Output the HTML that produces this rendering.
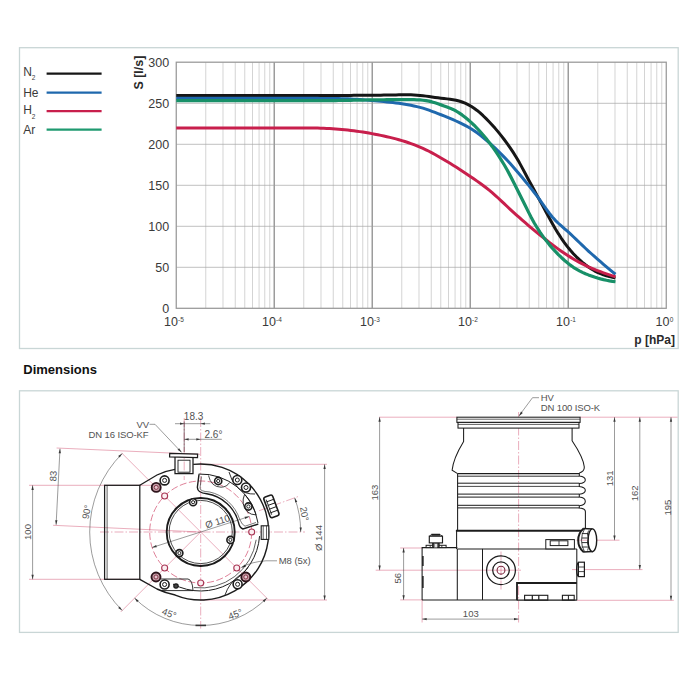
<!DOCTYPE html>
<html><head><meta charset="utf-8"><title>Pumping speed and dimensions</title>
<style>html,body{margin:0;padding:0;background:#fff}svg{display:block}</style></head>
<body>
<svg width="700" height="700" viewBox="0 0 700 700">
<rect width="700" height="700" fill="#fff"/>
<rect x="19.5" y="47.7" width="658.7" height="300.8" fill="#fff" stroke="#c9d6d6" stroke-width="1.3"/>
<rect x="19.5" y="390.8" width="658.7" height="241.6" fill="#fff" stroke="#c9d6d6" stroke-width="1.3"/>
<line x1="205.75" y1="62.2" x2="205.75" y2="308.3" stroke="#c2c2c2" stroke-width="0.7"/>
<line x1="223.01" y1="62.2" x2="223.01" y2="308.3" stroke="#c2c2c2" stroke-width="0.7"/>
<line x1="235.25" y1="62.2" x2="235.25" y2="308.3" stroke="#c2c2c2" stroke-width="0.7"/>
<line x1="244.75" y1="62.2" x2="244.75" y2="308.3" stroke="#c2c2c2" stroke-width="0.7"/>
<line x1="252.51" y1="62.2" x2="252.51" y2="308.3" stroke="#c2c2c2" stroke-width="0.7"/>
<line x1="259.07" y1="62.2" x2="259.07" y2="308.3" stroke="#c2c2c2" stroke-width="0.7"/>
<line x1="264.75" y1="62.2" x2="264.75" y2="308.3" stroke="#c2c2c2" stroke-width="0.7"/>
<line x1="269.77" y1="62.2" x2="269.77" y2="308.3" stroke="#c2c2c2" stroke-width="0.7"/>
<line x1="303.75" y1="62.2" x2="303.75" y2="308.3" stroke="#c2c2c2" stroke-width="0.7"/>
<line x1="321.01" y1="62.2" x2="321.01" y2="308.3" stroke="#c2c2c2" stroke-width="0.7"/>
<line x1="333.25" y1="62.2" x2="333.25" y2="308.3" stroke="#c2c2c2" stroke-width="0.7"/>
<line x1="342.75" y1="62.2" x2="342.75" y2="308.3" stroke="#c2c2c2" stroke-width="0.7"/>
<line x1="350.51" y1="62.2" x2="350.51" y2="308.3" stroke="#c2c2c2" stroke-width="0.7"/>
<line x1="357.07" y1="62.2" x2="357.07" y2="308.3" stroke="#c2c2c2" stroke-width="0.7"/>
<line x1="362.75" y1="62.2" x2="362.75" y2="308.3" stroke="#c2c2c2" stroke-width="0.7"/>
<line x1="367.77" y1="62.2" x2="367.77" y2="308.3" stroke="#c2c2c2" stroke-width="0.7"/>
<line x1="401.75" y1="62.2" x2="401.75" y2="308.3" stroke="#c2c2c2" stroke-width="0.7"/>
<line x1="419.01" y1="62.2" x2="419.01" y2="308.3" stroke="#c2c2c2" stroke-width="0.7"/>
<line x1="431.25" y1="62.2" x2="431.25" y2="308.3" stroke="#c2c2c2" stroke-width="0.7"/>
<line x1="440.75" y1="62.2" x2="440.75" y2="308.3" stroke="#c2c2c2" stroke-width="0.7"/>
<line x1="448.51" y1="62.2" x2="448.51" y2="308.3" stroke="#c2c2c2" stroke-width="0.7"/>
<line x1="455.07" y1="62.2" x2="455.07" y2="308.3" stroke="#c2c2c2" stroke-width="0.7"/>
<line x1="460.75" y1="62.2" x2="460.75" y2="308.3" stroke="#c2c2c2" stroke-width="0.7"/>
<line x1="465.77" y1="62.2" x2="465.77" y2="308.3" stroke="#c2c2c2" stroke-width="0.7"/>
<line x1="499.75" y1="62.2" x2="499.75" y2="308.3" stroke="#c2c2c2" stroke-width="0.7"/>
<line x1="517.01" y1="62.2" x2="517.01" y2="308.3" stroke="#c2c2c2" stroke-width="0.7"/>
<line x1="529.25" y1="62.2" x2="529.25" y2="308.3" stroke="#c2c2c2" stroke-width="0.7"/>
<line x1="538.75" y1="62.2" x2="538.75" y2="308.3" stroke="#c2c2c2" stroke-width="0.7"/>
<line x1="546.51" y1="62.2" x2="546.51" y2="308.3" stroke="#c2c2c2" stroke-width="0.7"/>
<line x1="553.07" y1="62.2" x2="553.07" y2="308.3" stroke="#c2c2c2" stroke-width="0.7"/>
<line x1="558.75" y1="62.2" x2="558.75" y2="308.3" stroke="#c2c2c2" stroke-width="0.7"/>
<line x1="563.77" y1="62.2" x2="563.77" y2="308.3" stroke="#c2c2c2" stroke-width="0.7"/>
<line x1="597.75" y1="62.2" x2="597.75" y2="308.3" stroke="#c2c2c2" stroke-width="0.7"/>
<line x1="615.01" y1="62.2" x2="615.01" y2="308.3" stroke="#c2c2c2" stroke-width="0.7"/>
<line x1="627.25" y1="62.2" x2="627.25" y2="308.3" stroke="#c2c2c2" stroke-width="0.7"/>
<line x1="636.75" y1="62.2" x2="636.75" y2="308.3" stroke="#c2c2c2" stroke-width="0.7"/>
<line x1="644.51" y1="62.2" x2="644.51" y2="308.3" stroke="#c2c2c2" stroke-width="0.7"/>
<line x1="651.07" y1="62.2" x2="651.07" y2="308.3" stroke="#c2c2c2" stroke-width="0.7"/>
<line x1="656.75" y1="62.2" x2="656.75" y2="308.3" stroke="#c2c2c2" stroke-width="0.7"/>
<line x1="661.77" y1="62.2" x2="661.77" y2="308.3" stroke="#c2c2c2" stroke-width="0.7"/>
<line x1="176.25" y1="267.30" x2="666.25" y2="267.30" stroke="#a6a6a6" stroke-width="0.7"/>
<line x1="176.25" y1="226.30" x2="666.25" y2="226.30" stroke="#a6a6a6" stroke-width="0.7"/>
<line x1="176.25" y1="185.30" x2="666.25" y2="185.30" stroke="#a6a6a6" stroke-width="0.7"/>
<line x1="176.25" y1="144.30" x2="666.25" y2="144.30" stroke="#a6a6a6" stroke-width="0.7"/>
<line x1="176.25" y1="103.30" x2="666.25" y2="103.30" stroke="#a6a6a6" stroke-width="0.7"/>
<line x1="274.25" y1="62.2" x2="274.25" y2="308.3" stroke="#9c9c9c" stroke-width="1.5"/>
<line x1="372.25" y1="62.2" x2="372.25" y2="308.3" stroke="#9c9c9c" stroke-width="1.5"/>
<line x1="470.25" y1="62.2" x2="470.25" y2="308.3" stroke="#9c9c9c" stroke-width="1.5"/>
<line x1="568.25" y1="62.2" x2="568.25" y2="308.3" stroke="#9c9c9c" stroke-width="1.5"/>
<rect x="176.25" y="62.2" width="490.0" height="246.1" fill="none" stroke="#989898" stroke-width="1.25"/>
<path d="M176.25,95.40 L179.26,95.40 L182.27,95.40 L185.28,95.40 L188.28,95.40 L191.29,95.40 L194.30,95.40 L197.31,95.40 L200.32,95.40 L203.33,95.40 L206.34,95.40 L209.34,95.40 L212.35,95.40 L215.36,95.40 L218.37,95.40 L221.38,95.40 L224.39,95.40 L227.40,95.40 L230.40,95.40 L233.41,95.40 L236.42,95.40 L239.43,95.40 L242.44,95.40 L245.45,95.40 L248.46,95.40 L251.46,95.40 L254.47,95.40 L257.48,95.40 L260.49,95.40 L263.50,95.40 L266.51,95.40 L269.52,95.40 L272.52,95.40 L275.53,95.40 L278.54,95.40 L281.55,95.40 L284.56,95.40 L287.57,95.40 L290.58,95.40 L293.58,95.40 L296.59,95.40 L299.60,95.40 L302.61,95.40 L305.62,95.40 L308.63,95.40 L311.64,95.40 L314.64,95.40 L317.65,95.40 L320.66,95.40 L323.67,95.40 L326.68,95.40 L329.69,95.40 L332.70,95.40 L335.70,95.40 L338.71,95.40 L341.72,95.40 L344.73,95.39 L347.74,95.39 L350.75,95.38 L353.76,95.37 L356.76,95.36 L359.77,95.35 L362.78,95.34 L365.79,95.33 L368.80,95.32 L371.81,95.30 L374.82,95.27 L377.82,95.23 L380.83,95.17 L383.84,95.11 L386.85,95.04 L389.86,94.98 L392.87,94.93 L395.88,94.90 L398.88,94.86 L401.89,94.84 L404.90,94.82 L407.91,94.82 L410.92,94.86 L413.93,94.97 L416.93,95.17 L419.94,95.42 L422.95,95.74 L425.96,96.12 L428.97,96.56 L431.98,97.03 L434.99,97.47 L437.99,97.85 L441.00,98.20 L444.01,98.53 L447.02,98.88 L450.03,99.26 L453.04,99.72 L456.05,100.30 L459.05,101.04 L462.06,101.99 L465.07,103.16 L468.08,104.58 L471.09,106.27 L474.10,108.22 L477.11,110.44 L480.11,112.95 L483.12,115.72 L486.13,118.68 L489.14,121.76 L492.15,124.97 L495.16,128.35 L498.17,131.89 L501.17,135.61 L504.18,139.50 L507.19,143.57 L510.20,147.85 L513.21,152.36 L516.22,157.18 L519.23,162.36 L522.23,167.85 L525.24,173.51 L528.25,179.18 L531.26,184.79 L534.27,190.34 L537.28,195.87 L540.29,201.39 L543.29,206.90 L546.30,212.43 L549.31,217.99 L552.32,223.47 L555.33,228.73 L558.34,233.66 L561.35,238.27 L564.35,242.58 L567.36,246.59 L570.37,250.28 L573.38,253.67 L576.39,256.80 L579.40,259.68 L582.41,262.33 L585.41,264.77 L588.42,267.02 L591.43,269.05 L594.44,270.82 L597.45,272.32 L600.46,273.61 L603.47,274.73 L606.47,275.71 L609.48,276.57 L612.49,277.32 L615.50,278.00" fill="none" stroke="#161616" stroke-width="3.0" stroke-linejoin="round" stroke-linecap="butt"/>
<path d="M176.25,98.30 L179.26,98.30 L182.27,98.30 L185.28,98.30 L188.28,98.30 L191.29,98.30 L194.30,98.30 L197.31,98.30 L200.32,98.30 L203.33,98.30 L206.34,98.30 L209.34,98.30 L212.35,98.30 L215.36,98.30 L218.37,98.30 L221.38,98.30 L224.39,98.30 L227.40,98.30 L230.40,98.30 L233.41,98.30 L236.42,98.30 L239.43,98.30 L242.44,98.30 L245.45,98.30 L248.46,98.30 L251.46,98.30 L254.47,98.30 L257.48,98.30 L260.49,98.30 L263.50,98.30 L266.51,98.30 L269.52,98.30 L272.52,98.30 L275.53,98.30 L278.54,98.30 L281.55,98.30 L284.56,98.30 L287.57,98.30 L290.58,98.30 L293.58,98.30 L296.59,98.30 L299.60,98.30 L302.61,98.30 L305.62,98.31 L308.63,98.32 L311.64,98.33 L314.64,98.35 L317.65,98.36 L320.66,98.39 L323.67,98.41 L326.68,98.44 L329.69,98.47 L332.70,98.51 L335.70,98.54 L338.71,98.59 L341.72,98.65 L344.73,98.73 L347.74,98.85 L350.75,98.98 L353.76,99.14 L356.76,99.31 L359.77,99.50 L362.78,99.70 L365.79,99.92 L368.80,100.18 L371.81,100.44 L374.82,100.71 L377.82,100.99 L380.83,101.28 L383.84,101.59 L386.85,101.90 L389.86,102.23 L392.87,102.58 L395.88,102.96 L398.88,103.36 L401.89,103.79 L404.90,104.26 L407.91,104.77 L410.92,105.33 L413.93,105.94 L416.93,106.60 L419.94,107.34 L422.95,108.18 L425.96,109.14 L428.97,110.20 L431.98,111.31 L434.99,112.45 L437.99,113.60 L441.00,114.75 L444.01,115.92 L447.02,117.12 L450.03,118.37 L453.04,119.66 L456.05,121.00 L459.05,122.39 L462.06,123.83 L465.07,125.35 L468.08,126.97 L471.09,128.74 L474.10,130.69 L477.11,132.83 L480.11,135.14 L483.12,137.58 L486.13,140.11 L489.14,142.71 L492.15,145.40 L495.16,148.20 L498.17,151.09 L501.17,154.08 L504.18,157.16 L507.19,160.32 L510.20,163.59 L513.21,166.96 L516.22,170.41 L519.23,173.94 L522.23,177.53 L525.24,181.17 L528.25,184.88 L531.26,188.66 L534.27,192.51 L537.28,196.44 L540.29,200.51 L543.29,204.76 L546.30,209.08 L549.31,213.25 L552.32,217.01 L555.33,220.31 L558.34,223.24 L561.35,225.95 L564.35,228.56 L567.36,231.19 L570.37,233.90 L573.38,236.72 L576.39,239.59 L579.40,242.49 L582.41,245.38 L585.41,248.23 L588.42,251.03 L591.43,253.76 L594.44,256.45 L597.45,259.10 L600.46,261.71 L603.47,264.29 L606.47,266.84 L609.48,269.34 L612.49,271.81 L615.50,274.25" fill="none" stroke="#1f68ad" stroke-width="3.0" stroke-linejoin="round" stroke-linecap="butt"/>
<path d="M176.25,128.00 L179.26,128.00 L182.27,128.00 L185.28,128.00 L188.28,128.00 L191.29,128.00 L194.30,128.00 L197.31,128.00 L200.32,128.00 L203.33,128.00 L206.34,128.00 L209.34,128.00 L212.35,128.00 L215.36,128.00 L218.37,128.00 L221.38,128.00 L224.39,128.00 L227.40,128.00 L230.40,128.00 L233.41,128.00 L236.42,128.00 L239.43,128.00 L242.44,128.00 L245.45,128.00 L248.46,128.00 L251.46,128.00 L254.47,128.00 L257.48,128.00 L260.49,128.00 L263.50,128.00 L266.51,128.00 L269.52,128.00 L272.52,128.00 L275.53,128.00 L278.54,128.00 L281.55,128.00 L284.56,128.00 L287.57,128.00 L290.58,128.00 L293.58,128.00 L296.59,128.00 L299.60,128.00 L302.61,128.01 L305.62,128.01 L308.63,128.03 L311.64,128.05 L314.64,128.07 L317.65,128.11 L320.66,128.17 L323.67,128.27 L326.68,128.41 L329.69,128.58 L332.70,128.76 L335.70,128.96 L338.71,129.19 L341.72,129.45 L344.73,129.74 L347.74,130.06 L350.75,130.40 L353.76,130.78 L356.76,131.18 L359.77,131.62 L362.78,132.09 L365.79,132.58 L368.80,133.10 L371.81,133.63 L374.82,134.19 L377.82,134.77 L380.83,135.38 L383.84,136.01 L386.85,136.68 L389.86,137.38 L392.87,138.12 L395.88,138.89 L398.88,139.71 L401.89,140.58 L404.90,141.52 L407.91,142.52 L410.92,143.58 L413.93,144.71 L416.93,145.89 L419.94,147.13 L422.95,148.43 L425.96,149.79 L428.97,151.25 L431.98,152.82 L434.99,154.47 L437.99,156.19 L441.00,157.94 L444.01,159.72 L447.02,161.51 L450.03,163.33 L453.04,165.17 L456.05,167.05 L459.05,168.97 L462.06,170.92 L465.07,172.90 L468.08,174.91 L471.09,176.96 L474.10,179.03 L477.11,181.14 L480.11,183.29 L483.12,185.50 L486.13,187.79 L489.14,190.17 L492.15,192.66 L495.16,195.27 L498.17,198.00 L501.17,200.81 L504.18,203.66 L507.19,206.52 L510.20,209.34 L513.21,212.10 L516.22,214.81 L519.23,217.46 L522.23,220.09 L525.24,222.69 L528.25,225.27 L531.26,227.81 L534.27,230.32 L537.28,232.79 L540.29,235.21 L543.29,237.61 L546.30,239.99 L549.31,242.34 L552.32,244.65 L555.33,246.91 L558.34,249.11 L561.35,251.23 L564.35,253.28 L567.36,255.25 L570.37,257.14 L573.38,258.95 L576.39,260.69 L579.40,262.33 L582.41,263.90 L585.41,265.37 L588.42,266.77 L591.43,268.09 L594.44,269.35 L597.45,270.56 L600.46,271.71 L603.47,272.80 L606.47,273.85 L609.48,274.86 L612.49,275.82 L615.50,276.75" fill="none" stroke="#c81f4c" stroke-width="3.0" stroke-linejoin="round" stroke-linecap="butt"/>
<path d="M176.25,100.60 L179.26,100.60 L182.27,100.60 L185.28,100.60 L188.28,100.60 L191.29,100.60 L194.30,100.60 L197.31,100.60 L200.32,100.60 L203.33,100.60 L206.34,100.60 L209.34,100.60 L212.35,100.60 L215.36,100.60 L218.37,100.60 L221.38,100.60 L224.39,100.60 L227.40,100.60 L230.40,100.60 L233.41,100.60 L236.42,100.60 L239.43,100.60 L242.44,100.60 L245.45,100.60 L248.46,100.60 L251.46,100.60 L254.47,100.60 L257.48,100.60 L260.49,100.60 L263.50,100.60 L266.51,100.60 L269.52,100.60 L272.52,100.60 L275.53,100.60 L278.54,100.60 L281.55,100.60 L284.56,100.60 L287.57,100.60 L290.58,100.60 L293.58,100.60 L296.59,100.60 L299.60,100.60 L302.61,100.60 L305.62,100.60 L308.63,100.60 L311.64,100.60 L314.64,100.60 L317.65,100.60 L320.66,100.60 L323.67,100.60 L326.68,100.60 L329.69,100.60 L332.70,100.58 L335.70,100.56 L338.71,100.52 L341.72,100.47 L344.73,100.41 L347.74,100.35 L350.75,100.28 L353.76,100.22 L356.76,100.16 L359.77,100.11 L362.78,100.05 L365.79,100.00 L368.80,99.95 L371.81,99.90 L374.82,99.85 L377.82,99.80 L380.83,99.76 L383.84,99.73 L386.85,99.71 L389.86,99.70 L392.87,99.70 L395.88,99.70 L398.88,99.70 L401.89,99.70 L404.90,99.70 L407.91,99.70 L410.92,99.70 L413.93,99.72 L416.93,99.80 L419.94,99.96 L422.95,100.23 L425.96,100.61 L428.97,101.16 L431.98,101.91 L434.99,102.83 L437.99,103.85 L441.00,104.88 L444.01,105.92 L447.02,106.99 L450.03,108.14 L453.04,109.45 L456.05,111.01 L459.05,112.85 L462.06,114.93 L465.07,117.21 L468.08,119.69 L471.09,122.36 L474.10,125.23 L477.11,128.28 L480.11,131.52 L483.12,134.95 L486.13,138.57 L489.14,142.41 L492.15,146.45 L495.16,150.70 L498.17,155.14 L501.17,159.80 L504.18,164.73 L507.19,170.00 L510.20,175.62 L513.21,181.47 L516.22,187.43 L519.23,193.44 L522.23,199.49 L525.24,205.57 L528.25,211.63 L531.26,217.50 L534.27,222.98 L537.28,227.99 L540.29,232.59 L543.29,236.87 L546.30,240.86 L549.31,244.60 L552.32,248.11 L555.33,251.41 L558.34,254.53 L561.35,257.47 L564.35,260.25 L567.36,262.82 L570.37,265.16 L573.38,267.28 L576.39,269.19 L579.40,270.88 L582.41,272.37 L585.41,273.69 L588.42,274.88 L591.43,275.99 L594.44,277.04 L597.45,278.00 L600.46,278.85 L603.47,279.60 L606.47,280.25 L609.48,280.82 L612.49,281.32 L615.50,281.75" fill="none" stroke="#189068" stroke-width="3.2" stroke-linejoin="round" stroke-linecap="butt"/>
<text x="169.1" y="312.9" font-family="Liberation Sans, Arial, sans-serif" font-size="12.5" fill="#3a3a3a" text-anchor="end">0</text>
<text x="169.1" y="271.9" font-family="Liberation Sans, Arial, sans-serif" font-size="12.5" fill="#3a3a3a" text-anchor="end">50</text>
<text x="169.1" y="230.9" font-family="Liberation Sans, Arial, sans-serif" font-size="12.5" fill="#3a3a3a" text-anchor="end">100</text>
<text x="169.1" y="189.9" font-family="Liberation Sans, Arial, sans-serif" font-size="12.5" fill="#3a3a3a" text-anchor="end">150</text>
<text x="169.1" y="148.9" font-family="Liberation Sans, Arial, sans-serif" font-size="12.5" fill="#3a3a3a" text-anchor="end">200</text>
<text x="169.1" y="107.9" font-family="Liberation Sans, Arial, sans-serif" font-size="12.5" fill="#3a3a3a" text-anchor="end">250</text>
<text x="169.1" y="66.9" font-family="Liberation Sans, Arial, sans-serif" font-size="12.5" fill="#3a3a3a" text-anchor="end">300</text>
<text x="177.9" y="326.1" font-family="Liberation Sans, Arial, sans-serif" font-size="12.5" fill="#3a3a3a" text-anchor="end">10</text>
<text x="178.1" y="321.5" font-family="Liberation Sans, Arial, sans-serif" font-size="6.5" fill="#3a3a3a">-5</text>
<text x="275.9" y="326.1" font-family="Liberation Sans, Arial, sans-serif" font-size="12.5" fill="#3a3a3a" text-anchor="end">10</text>
<text x="276.1" y="321.5" font-family="Liberation Sans, Arial, sans-serif" font-size="6.5" fill="#3a3a3a">-4</text>
<text x="373.9" y="326.1" font-family="Liberation Sans, Arial, sans-serif" font-size="12.5" fill="#3a3a3a" text-anchor="end">10</text>
<text x="374.1" y="321.5" font-family="Liberation Sans, Arial, sans-serif" font-size="6.5" fill="#3a3a3a">-3</text>
<text x="471.9" y="326.1" font-family="Liberation Sans, Arial, sans-serif" font-size="12.5" fill="#3a3a3a" text-anchor="end">10</text>
<text x="472.1" y="321.5" font-family="Liberation Sans, Arial, sans-serif" font-size="6.5" fill="#3a3a3a">-2</text>
<text x="570.0" y="326.1" font-family="Liberation Sans, Arial, sans-serif" font-size="12.5" fill="#3a3a3a" text-anchor="end">10</text>
<text x="570.2" y="321.5" font-family="Liberation Sans, Arial, sans-serif" font-size="6.5" fill="#3a3a3a">-1</text>
<text x="669.5" y="326.1" font-family="Liberation Sans, Arial, sans-serif" font-size="12.5" fill="#3a3a3a" text-anchor="end">10</text>
<text x="669.7" y="321.5" font-family="Liberation Sans, Arial, sans-serif" font-size="6.5" fill="#3a3a3a">0</text>
<text x="675" y="343.5" font-family="Liberation Sans, Arial, sans-serif" font-size="12" font-weight="bold" fill="#2a2a2a" text-anchor="end">p [hPa]</text>
<text transform="translate(143.4,89.6) rotate(-90)" font-family="Liberation Sans, Arial, sans-serif" font-size="12.5" font-weight="bold" fill="#2a2a2a">S [l/s]</text>
<text x="23.2" y="75.8" font-family="Liberation Sans, Arial, sans-serif" font-size="12" fill="#3a3a3a">N<tspan font-size="6.5" dy="4.6">2</tspan></text>
<line x1="46.6" y1="73.7" x2="101.6" y2="73.7" stroke="#161616" stroke-width="2.3"/>
<text x="23.2" y="97.1" font-family="Liberation Sans, Arial, sans-serif" font-size="12" fill="#3a3a3a">He<tspan font-size="6.5" dy="4.6"></tspan></text>
<line x1="46.6" y1="92.7" x2="101.6" y2="92.7" stroke="#1f68ad" stroke-width="2.3"/>
<text x="23.2" y="113.9" font-family="Liberation Sans, Arial, sans-serif" font-size="12" fill="#3a3a3a">H<tspan font-size="6.5" dy="4.6">2</tspan></text>
<line x1="46.6" y1="111.2" x2="101.6" y2="111.2" stroke="#c81f4c" stroke-width="2.3"/>
<text x="23.2" y="133.9" font-family="Liberation Sans, Arial, sans-serif" font-size="12" fill="#3a3a3a">Ar<tspan font-size="6.5" dy="4.6"></tspan></text>
<line x1="46.6" y1="129.6" x2="101.6" y2="129.6" stroke="#1f9a70" stroke-width="2.3"/>
<text x="23.3" y="373.6" font-family="Liberation Sans, Arial, sans-serif" font-size="13" font-weight="bold" fill="#111">Dimensions</text>
<line x1="100.00" y1="532.00" x2="305.00" y2="532.00" stroke="#d04a6c" stroke-width="0.45" stroke-dasharray="9 2 1.5 2"/>
<line x1="200.70" y1="418.00" x2="200.70" y2="628.60" stroke="#d04a6c" stroke-width="0.45" stroke-dasharray="9 2 1.5 2"/>
<line x1="184.20" y1="418.00" x2="184.20" y2="480.00" stroke="#d04a6c" stroke-width="0.45" stroke-dasharray="9 2 1.5 2"/>
<line x1="56.60" y1="448.00" x2="200.00" y2="454.30" stroke="#d04a6c" stroke-width="0.45" />
<line x1="53.10" y1="525.30" x2="200.70" y2="532.00" stroke="#d04a6c" stroke-width="0.45" />
<line x1="29.00" y1="485.30" x2="158.00" y2="485.30" stroke="#d04a6c" stroke-width="0.45" />
<line x1="29.00" y1="579.30" x2="141.00" y2="579.30" stroke="#d04a6c" stroke-width="0.45" />
<line x1="200.00" y1="464.30" x2="327.00" y2="464.30" stroke="#d04a6c" stroke-width="0.45" />
<line x1="201.00" y1="600.00" x2="327.00" y2="600.00" stroke="#d04a6c" stroke-width="0.45" />
<line x1="200.70" y1="532.00" x2="121.50" y2="452.80" stroke="#d04a6c" stroke-width="0.45" />
<line x1="200.70" y1="532.00" x2="120.80" y2="611.90" stroke="#d04a6c" stroke-width="0.45" />
<line x1="200.70" y1="532.00" x2="267.88" y2="599.18" stroke="#d04a6c" stroke-width="0.45" />
<line x1="258.96" y1="510.79" x2="298.43" y2="496.43" stroke="#d04a6c" stroke-width="0.45" stroke-dasharray="9 2 1.5 2"/>
<circle cx="200.70" cy="532.00" r="51.00" fill="none" stroke="#d04a6c" stroke-width="0.70" stroke-dasharray="7 2.5"/>
<circle cx="164.64" cy="495.94" r="3.00" fill="#fbeef1" stroke="#a83554" stroke-width="1.10" />
<circle cx="251.70" cy="532.00" r="3.00" fill="#fbeef1" stroke="#a83554" stroke-width="1.10" />
<circle cx="236.76" cy="568.06" r="3.00" fill="#fbeef1" stroke="#a83554" stroke-width="1.10" />
<circle cx="200.70" cy="583.00" r="3.00" fill="#fbeef1" stroke="#a83554" stroke-width="1.10" />
<circle cx="164.64" cy="568.06" r="3.00" fill="#fbeef1" stroke="#a83554" stroke-width="1.10" />
<line x1="60.00" y1="448.70" x2="56.10" y2="524.80" stroke="#383838" stroke-width="0.50" />
<polygon points="60.00,448.70 60.92,453.35 58.62,453.24" fill="#383838"/>
<polygon points="56.10,524.80 55.18,520.15 57.48,520.26" fill="#383838"/>
<text transform="translate(56.40,476.20) rotate(-87.1)" font-family="Liberation Sans, Arial, sans-serif" font-size="9.5" fill="#525252" text-anchor="middle" >83</text>
<line x1="32.60" y1="485.30" x2="32.60" y2="579.30" stroke="#383838" stroke-width="0.50" />
<polygon points="32.60,485.30 33.75,489.90 31.45,489.90" fill="#383838"/>
<polygon points="32.60,579.30 31.45,574.70 33.75,574.70" fill="#383838"/>
<text transform="translate(31.20,532.00) rotate(-90.0)" font-family="Liberation Sans, Arial, sans-serif" font-size="9.5" fill="#525252" text-anchor="middle" >100</text>
<path d="M122.21,610.49 A111.00,111.00 0 0 1 122.21,453.51" fill="none" stroke="#383838" stroke-width="0.50" />
<polygon points="122.21,453.51 119.77,457.58 118.15,455.95" fill="#383838"/>
<polygon points="122.21,610.49 118.15,608.05 119.77,606.42" fill="#383838"/>
<text transform="translate(89.80,512.50) rotate(-80.0)" font-family="Liberation Sans, Arial, sans-serif" font-size="9.5" fill="#525252" text-anchor="middle" >90°</text>
<path d="M266.81,598.11 A93.50,93.50 0 0 1 134.59,598.11" fill="none" stroke="#383838" stroke-width="0.50" />
<polygon points="134.59,598.11 138.65,600.55 137.03,602.18" fill="#383838"/>
<polygon points="266.81,598.11 264.37,602.18 262.75,600.55" fill="#383838"/>
<line x1="195.50" y1="625.40" x2="206.00" y2="625.40" stroke="#383838" stroke-width="1.60" />
<text transform="translate(168.00,616.60) rotate(21.0)" font-family="Liberation Sans, Arial, sans-serif" font-size="9.5" fill="#525252" text-anchor="middle" >45°</text>
<text transform="translate(236.50,617.30) rotate(-21.0)" font-family="Liberation Sans, Arial, sans-serif" font-size="9.5" fill="#525252" text-anchor="middle" >45°</text>
<line x1="324.60" y1="464.30" x2="324.60" y2="600.00" stroke="#383838" stroke-width="0.50" />
<polygon points="324.60,464.30 325.75,468.90 323.45,468.90" fill="#383838"/>
<polygon points="324.60,600.00 323.45,595.40 325.75,595.40" fill="#383838"/>
<text transform="translate(321.90,538.00) rotate(-90.0)" font-family="Liberation Sans, Arial, sans-serif" font-size="9.5" fill="#525252" text-anchor="middle" >Ø 144</text>
<path d="M294.67,497.80 A100.00,100.00 0 0 1 300.70,532.00" fill="none" stroke="#383838" stroke-width="0.50" />
<polygon points="294.67,497.80 297.32,501.73 295.16,502.51" fill="#383838"/>
<polygon points="300.70,532.00 299.55,527.40 301.85,527.40" fill="#383838"/>
<text transform="translate(301.20,514.50) rotate(80.0)" font-family="Liberation Sans, Arial, sans-serif" font-size="9.5" fill="#525252" text-anchor="middle" >20°</text>
<line x1="152.11" y1="547.51" x2="249.29" y2="516.49" stroke="#383838" stroke-width="0.50" />
<polygon points="152.11,547.51 156.15,545.01 156.85,547.20" fill="#383838"/>
<polygon points="249.29,516.49 245.25,518.99 244.55,516.80" fill="#383838"/>
<text transform="translate(218.60,524.60) rotate(-17.7)" font-family="Liberation Sans, Arial, sans-serif" font-size="9.5" fill="#525252" text-anchor="middle" >Ø 110</text>
<line x1="175.00" y1="423.70" x2="210.30" y2="423.70" stroke="#383838" stroke-width="0.50" />
<polygon points="184.20,423.70 180.00,424.85 180.00,422.55" fill="#383838"/>
<polygon points="200.70,423.70 204.90,422.55 204.90,424.85" fill="#383838"/>
<line x1="184.20" y1="421.50" x2="184.20" y2="452.00" stroke="#40202a" stroke-width="0.60" />
<text x="193.60" y="420.30" font-family="Liberation Sans, Arial, sans-serif" font-size="10.0" fill="#525252" text-anchor="middle" >18.3</text>
<text x="204.50" y="438.10" font-family="Liberation Sans, Arial, sans-serif" font-size="10.0" fill="#525252" text-anchor="start" >2.6°</text>
<line x1="184.20" y1="439.30" x2="221.80" y2="439.30" stroke="#383838" stroke-width="0.50" />
<polygon points="184.40,439.30 188.60,438.15 188.60,440.45" fill="#383838"/>
<polygon points="200.50,439.30 196.30,440.45 196.30,438.15" fill="#383838"/>
<text x="136.50" y="428.20" font-family="Liberation Sans, Arial, sans-serif" font-size="9.5" fill="#525252" text-anchor="start" >VV</text>
<text x="88.50" y="438.40" font-family="Liberation Sans, Arial, sans-serif" font-size="9.5" fill="#525252" text-anchor="start" textLength="60">DN 16 ISO-KF</text>
<path d="M149.5,424.3 L155,424.3 L181.5,452.3" fill="none" stroke="#383838" stroke-width="0.50" />
<polygon points="181.80,452.60 177.52,449.76 179.19,448.18" fill="#383838"/>
<text x="278.70" y="564.30" font-family="Liberation Sans, Arial, sans-serif" font-size="9.5" fill="#525252" text-anchor="start" textLength="32">M8 (5x)</text>
<path d="M277,560.8 L266,560.8 Q252,561.6 241.6,567.3" fill="none" stroke="#383838" stroke-width="0.50" />
<polygon points="240.90,567.70 244.95,564.54 245.92,566.63" fill="#383838"/>
<rect x="104.60" y="485.30" width="35.20" height="94.00" fill="none" stroke="#1c1c1c" stroke-width="1.25" />
<line x1="107.10" y1="485.30" x2="107.10" y2="579.30" stroke="#1c1c1c" stroke-width="0.70" />
<path d="M139.8,485.3 L157,475 Q166,470.6 175,469.3" fill="none" stroke="#1c1c1c" stroke-width="1.25" />
<path d="M193.24,464.41 A68.00,68.00 0 1 1 175.23,595.05 Q166,593.2 157,589 L139.8,579.3" fill="none" stroke="#1c1c1c" stroke-width="1.40" />
<path d="M198.68,474.04 A58.00,58.00 0 0 1 257.99,522.93" fill="none" stroke="#1c1c1c" stroke-width="1.00" />
<path d="M259.56,536.12 A59.00,59.00 0 0 1 173.00,584.09" fill="none" stroke="#1c1c1c" stroke-width="1.00" />
<path d="M256.16,539.79 A56.00,56.00 0 0 1 193.88,587.58" fill="none" stroke="#1c1c1c" stroke-width="0.70" />
<path d="M169.7,453.4 L197.6,454.2 L197.5,457.6 L169.6,456.8 Z" fill="#fff" stroke="#1c1c1c" stroke-width="1.25" />
<path d="M175,457 L175,473.6 L193,473.6 L193,457.6" fill="none" stroke="#1c1c1c" stroke-width="1.25" />
<rect x="178.00" y="460.20" width="12.00" height="12.00" fill="none" stroke="#1c1c1c" stroke-width="0.90" />
<circle cx="200.70" cy="532.00" r="34.00" fill="none" stroke="#1c1c1c" stroke-width="1.90" />
<circle cx="200.70" cy="532.00" r="31.60" fill="none" stroke="#1c1c1c" stroke-width="0.80" />
<path d="M199,474.3 L197.4,487 Q197,492.5 206.78,493.81 A39,39 0 0 1 238.54,522.57 Q239.5,527.5 243,529 L258.3,524" fill="none" stroke="#1c1c1c" stroke-width="1.40" />
<path d="M201.5,476.5 L200,488 Q200,491.5 209.22,491.90 A41,41 0 0 1 239.69,519.33 Q242,525 245,526.2 L256,522.5" fill="none" stroke="#1c1c1c" stroke-width="0.60" />
<path d="M208.5,475.5 Q211,487 221,487.2 Q227,487 229.5,482.5" fill="none" stroke="#1c1c1c" stroke-width="0.80" />
<path d="M229,472 Q230.5,480 238,488 Q245,494.5 255,494" fill="none" stroke="#1c1c1c" stroke-width="0.90" />
<path d="M244.6,494.3 Q240.5,504 247,511.5 Q251,515 256,514.9 Q253,503 244.6,494.3" fill="none" stroke="#1c1c1c" stroke-width="0.90" />
<path d="M225,595 Q229,583 240,575 Q246,571 248,567.5" fill="none" stroke="#1c1c1c" stroke-width="0.90" />
<path d="M161,579 L188,579 Q192.5,580 193,590.6 L161,590.6" fill="none" stroke="#1c1c1c" stroke-width="0.90" />
<circle cx="164.60" cy="480.40" r="4.50" fill="#fff" stroke="#1c1c1c" stroke-width="1.60" />
<circle cx="164.60" cy="480.40" r="2.02" fill="none" stroke="#1c1c1c" stroke-width="1.00" />
<circle cx="164.60" cy="584.50" r="4.50" fill="#fff" stroke="#1c1c1c" stroke-width="1.60" />
<circle cx="164.60" cy="584.50" r="2.02" fill="none" stroke="#1c1c1c" stroke-width="1.00" />
<circle cx="237.30" cy="480.00" r="4.50" fill="#fff" stroke="#1c1c1c" stroke-width="1.60" />
<circle cx="237.30" cy="480.00" r="2.02" fill="none" stroke="#1c1c1c" stroke-width="1.00" />
<circle cx="246.00" cy="487.50" r="4.50" fill="#fff" stroke="#1c1c1c" stroke-width="1.60" />
<circle cx="246.00" cy="487.50" r="2.02" fill="none" stroke="#1c1c1c" stroke-width="1.00" />
<circle cx="237.60" cy="584.30" r="4.50" fill="#fff" stroke="#1c1c1c" stroke-width="1.60" />
<circle cx="237.60" cy="584.30" r="2.02" fill="none" stroke="#1c1c1c" stroke-width="1.00" />
<circle cx="156.20" cy="487.40" r="4.50" fill="#c9a0aa" stroke="#2e141b" stroke-width="1.90" />
<circle cx="156.20" cy="487.40" r="2.02" fill="#e6c6cd" stroke="#7a2a3e" stroke-width="0.90" />
<circle cx="156.00" cy="577.00" r="4.50" fill="#c9a0aa" stroke="#2e141b" stroke-width="1.90" />
<circle cx="156.00" cy="577.00" r="2.02" fill="#e6c6cd" stroke="#7a2a3e" stroke-width="0.90" />
<circle cx="245.80" cy="577.00" r="4.50" fill="#c9a0aa" stroke="#2e141b" stroke-width="1.90" />
<circle cx="245.80" cy="577.00" r="2.02" fill="#e6c6cd" stroke="#7a2a3e" stroke-width="0.90" />
<circle cx="218.20" cy="481.00" r="3.60" fill="#fff" stroke="#1c1c1c" stroke-width="1.60" />
<circle cx="218.20" cy="481.00" r="1.62" fill="none" stroke="#1c1c1c" stroke-width="1.00" />
<circle cx="248.40" cy="506.50" r="3.60" fill="#fff" stroke="#1c1c1c" stroke-width="1.60" />
<circle cx="248.40" cy="506.50" r="1.62" fill="none" stroke="#1c1c1c" stroke-width="1.00" />
<circle cx="193.10" cy="502.20" r="3.50" fill="#fff" stroke="#1c1c1c" stroke-width="1.60" />
<circle cx="193.10" cy="502.20" r="1.57" fill="none" stroke="#1c1c1c" stroke-width="1.00" />
<circle cx="230.40" cy="539.90" r="3.50" fill="#fff" stroke="#1c1c1c" stroke-width="1.60" />
<circle cx="230.40" cy="539.90" r="1.57" fill="none" stroke="#1c1c1c" stroke-width="1.00" />
<circle cx="179.40" cy="553.10" r="3.50" fill="#fff" stroke="#1c1c1c" stroke-width="1.60" />
<circle cx="179.40" cy="553.10" r="1.57" fill="none" stroke="#1c1c1c" stroke-width="1.00" />
<circle cx="176.00" cy="586.00" r="2.20" fill="#444" stroke="#1c1c1c" stroke-width="1.20" />
<rect x="261.20" y="525.80" width="7.60" height="13.60" fill="#fff" stroke="#1c1c1c" stroke-width="1.10" />
<line x1="263.20" y1="525.80" x2="263.20" y2="539.40" stroke="#1c1c1c" stroke-width="0.70" />
<line x1="266.50" y1="525.80" x2="266.50" y2="539.40" stroke="#1c1c1c" stroke-width="0.70" />
<g transform="translate(271.40,506.30) rotate(-20)">
<path d="M-4.7,-8.8 Q-4.7,-10.9 -2.6,-10.9 L2.6,-10.9 Q4.7,-10.9 4.7,-8.8 L4.7,8.8 Q4.7,10.9 2.6,10.9 L-2.6,10.9 Q-4.7,10.9 -4.7,8.8 Z" fill="#fff" stroke="#1c1c1c" stroke-width="1.6"/>
<line x1="-3.2" y1="-5.8" x2="5" y2="-5.8" stroke="#1c1c1c" stroke-width="0.9"/>
<line x1="-3.2" y1="-2.0" x2="5" y2="-2.0" stroke="#1c1c1c" stroke-width="0.9"/>
<line x1="-3.2" y1="2.0" x2="5" y2="2.0" stroke="#1c1c1c" stroke-width="0.9"/>
<line x1="-3.2" y1="5.8" x2="5" y2="5.8" stroke="#1c1c1c" stroke-width="0.9"/>
<line x1="-2.6" y1="-8" x2="-2.6" y2="8" stroke="#1c1c1c" stroke-width="0.8"/>
</g>
<line x1="379.00" y1="417.20" x2="456.90" y2="417.20" stroke="#d04a6c" stroke-width="0.45" />
<line x1="580.10" y1="417.20" x2="677.50" y2="417.20" stroke="#d04a6c" stroke-width="0.45" />
<line x1="518.60" y1="412.00" x2="518.60" y2="622.50" stroke="#d04a6c" stroke-width="0.45" stroke-dasharray="9 2 1.5 2"/>
<line x1="375.70" y1="570.20" x2="521.00" y2="570.20" stroke="#d04a6c" stroke-width="0.45" />
<line x1="572.00" y1="569.60" x2="642.50" y2="569.60" stroke="#d04a6c" stroke-width="0.45" />
<line x1="400.20" y1="548.00" x2="422.60" y2="548.00" stroke="#d04a6c" stroke-width="0.45" />
<line x1="400.20" y1="599.90" x2="422.60" y2="599.90" stroke="#d04a6c" stroke-width="0.45" />
<line x1="576.50" y1="540.20" x2="619.50" y2="540.20" stroke="#d04a6c" stroke-width="0.45" />
<line x1="576.80" y1="600.30" x2="673.80" y2="600.30" stroke="#d04a6c" stroke-width="0.45" />
<line x1="422.10" y1="599.90" x2="422.10" y2="622.50" stroke="#d04a6c" stroke-width="0.45" />
<line x1="501.00" y1="551.50" x2="501.00" y2="590.00" stroke="#d04a6c" stroke-width="0.45" stroke-dasharray="9 2 1.5 2"/>
<line x1="379.60" y1="417.20" x2="379.60" y2="570.20" stroke="#383838" stroke-width="0.50" />
<polygon points="379.60,417.20 380.75,421.80 378.45,421.80" fill="#383838"/>
<polygon points="379.60,570.20 378.45,565.60 380.75,565.60" fill="#383838"/>
<text transform="translate(378.00,492.70) rotate(-90.0)" font-family="Liberation Sans, Arial, sans-serif" font-size="9.5" fill="#525252" text-anchor="middle" >163</text>
<line x1="403.60" y1="548.00" x2="403.60" y2="599.90" stroke="#383838" stroke-width="0.50" />
<polygon points="403.60,548.00 404.75,552.60 402.45,552.60" fill="#383838"/>
<polygon points="403.60,599.90 402.45,595.30 404.75,595.30" fill="#383838"/>
<text transform="translate(400.90,578.20) rotate(-90.0)" font-family="Liberation Sans, Arial, sans-serif" font-size="9.5" fill="#525252" text-anchor="middle" >56</text>
<line x1="422.10" y1="619.10" x2="518.60" y2="619.10" stroke="#383838" stroke-width="0.50" />
<polygon points="422.10,619.10 426.70,617.95 426.70,620.25" fill="#383838"/>
<polygon points="518.60,619.10 514.00,620.25 514.00,617.95" fill="#383838"/>
<text x="470.80" y="616.60" font-family="Liberation Sans, Arial, sans-serif" font-size="9.5" fill="#525252" text-anchor="middle" >103</text>
<line x1="614.50" y1="417.20" x2="614.50" y2="540.20" stroke="#383838" stroke-width="0.50" />
<polygon points="614.50,417.20 615.65,421.80 613.35,421.80" fill="#383838"/>
<polygon points="614.50,540.20 613.35,535.60 615.65,535.60" fill="#383838"/>
<text transform="translate(612.80,478.40) rotate(-90.0)" font-family="Liberation Sans, Arial, sans-serif" font-size="9.5" fill="#525252" text-anchor="middle" >131</text>
<line x1="639.80" y1="417.20" x2="639.80" y2="569.60" stroke="#383838" stroke-width="0.50" />
<polygon points="639.80,417.20 640.95,421.80 638.65,421.80" fill="#383838"/>
<polygon points="639.80,569.60 638.65,565.00 640.95,565.00" fill="#383838"/>
<text transform="translate(638.40,493.40) rotate(-90.0)" font-family="Liberation Sans, Arial, sans-serif" font-size="9.5" fill="#525252" text-anchor="middle" >162</text>
<line x1="671.00" y1="417.20" x2="671.00" y2="600.30" stroke="#383838" stroke-width="0.50" />
<polygon points="671.00,417.20 672.15,421.80 669.85,421.80" fill="#383838"/>
<polygon points="671.00,600.30 669.85,595.70 672.15,595.70" fill="#383838"/>
<text transform="translate(670.60,507.60) rotate(-90.0)" font-family="Liberation Sans, Arial, sans-serif" font-size="9.5" fill="#525252" text-anchor="middle" >195</text>
<text x="540.70" y="401.20" font-family="Liberation Sans, Arial, sans-serif" font-size="9.5" fill="#525252" text-anchor="start" >HV</text>
<text x="540.70" y="410.80" font-family="Liberation Sans, Arial, sans-serif" font-size="9.5" fill="#525252" text-anchor="start" textLength="59.5">DN 100 ISO-K</text>
<path d="M539,397.7 L532.5,397.7 L519.2,415.6" fill="none" stroke="#383838" stroke-width="0.50" />
<polygon points="518.90,416.20 520.99,411.51 522.83,412.90" fill="#383838"/>
<rect x="456.90" y="417.20" width="123.20" height="5.20" fill="#fff" stroke="#1c1c1c" stroke-width="1.05" />
<line x1="456.90" y1="419.20" x2="580.10" y2="419.20" stroke="#1c1c1c" stroke-width="0.70" />
<rect x="458.00" y="422.40" width="121.00" height="5.70" fill="#fff" stroke="#1c1c1c" stroke-width="1.05" />
<line x1="458.00" y1="424.40" x2="579.00" y2="424.40" stroke="#1c1c1c" stroke-width="0.70" />
<path d="M463.6,428.1 L463.6,441.4 C459,449 453,460 452.1,470.3 L457.6,473.6" fill="none" stroke="#1c1c1c" stroke-width="1.05" />
<path d="M572.1,428.1 L572.1,440.7 C577,448 583.5,458 584.3,467 Q584.5,471.6 579.3,472.9" fill="none" stroke="#1c1c1c" stroke-width="1.05" />
<line x1="457.60" y1="473.60" x2="579.30" y2="473.60" stroke="#1c1c1c" stroke-width="1.10" />
<line x1="457.60" y1="476.20" x2="579.30" y2="476.20" stroke="#1c1c1c" stroke-width="0.90" />
<line x1="457.60" y1="483.20" x2="579.30" y2="483.20" stroke="#1c1c1c" stroke-width="1.00" />
<line x1="457.60" y1="486.40" x2="579.30" y2="486.40" stroke="#1c1c1c" stroke-width="0.80" />
<line x1="457.60" y1="494.10" x2="579.30" y2="494.10" stroke="#1c1c1c" stroke-width="1.00" />
<line x1="457.60" y1="497.10" x2="579.30" y2="497.10" stroke="#1c1c1c" stroke-width="1.00" />
<line x1="457.60" y1="505.30" x2="579.30" y2="505.30" stroke="#1c1c1c" stroke-width="1.00" />
<line x1="457.60" y1="507.90" x2="579.30" y2="507.90" stroke="#1c1c1c" stroke-width="1.00" />
<line x1="457.60" y1="473.60" x2="457.60" y2="529.90" stroke="#1c1c1c" stroke-width="1.05" />
<path d="M579.3,472.9 L579.3,476 C583,476.4 585.3,478 585.3,480 C585.3,482 583,483.3 579.3,483.6 L579.3,486.4 C583,486.8 585.3,488.3 585.3,490.3 C585.3,492.3 583,493.8 579.3,494.3 L579.3,497.1 C583,497.5 585.3,499.3 585.3,501.4 C585.3,503.5 583,505.2 579.3,505.7 L579.3,507.9 C583,508.2 585.4,509.5 585.4,511.8 L585.4,528.4" fill="none" stroke="#1c1c1c" stroke-width="1.05" />
<line x1="455.90" y1="530.70" x2="581.00" y2="530.70" stroke="#1c1c1c" stroke-width="2.00" />
<line x1="456.60" y1="530.30" x2="456.60" y2="548.90" stroke="#1c1c1c" stroke-width="1.05" />
<line x1="457.30" y1="548.90" x2="576.80" y2="548.90" stroke="#1c1c1c" stroke-width="1.05" />
<line x1="457.30" y1="548.90" x2="457.30" y2="599.90" stroke="#1c1c1c" stroke-width="1.05" />
<line x1="576.80" y1="548.90" x2="576.80" y2="600.30" stroke="#1c1c1c" stroke-width="1.05" />
<line x1="482.50" y1="548.90" x2="482.50" y2="599.90" stroke="#1c1c1c" stroke-width="1.05" />
<line x1="422.10" y1="599.90" x2="517.00" y2="599.90" stroke="#1c1c1c" stroke-width="1.05" />
<line x1="517.00" y1="600.20" x2="576.80" y2="600.20" stroke="#1c1c1c" stroke-width="1.20" />
<path d="M457.3,547.6 L422.1,547.6 L422.1,599.9" fill="none" stroke="#1c1c1c" stroke-width="1.05" />
<line x1="422.90" y1="556.00" x2="422.90" y2="566.00" stroke="#1c1c1c" stroke-width="1.50" />
<line x1="422.90" y1="576.00" x2="422.90" y2="588.00" stroke="#1c1c1c" stroke-width="1.50" />
<rect x="426.10" y="545.30" width="20.00" height="2.30" fill="#fff" stroke="#1c1c1c" stroke-width="1.00" />
<line x1="430.20" y1="545.30" x2="430.20" y2="547.60" stroke="#1c1c1c" stroke-width="0.80" />
<line x1="441.80" y1="545.30" x2="441.80" y2="547.60" stroke="#1c1c1c" stroke-width="0.80" />
<rect x="432.60" y="542.90" width="6.60" height="4.60" fill="#3a3a3a" stroke="#1c1c1c" stroke-width="0.80" />
<rect x="434.70" y="543.60" width="2.40" height="3.60" fill="#e4e4e4" stroke="#ddd" stroke-width="0.30" />
<rect x="429.30" y="536.20" width="13.20" height="6.70" fill="#fff" stroke="#1c1c1c" stroke-width="1.15" />
<path d="M429.3,536.2 L431.2,534.8 L440.2,534.8 L442.5,536.2" fill="none" stroke="#1c1c1c" stroke-width="0.90" />
<line x1="431.40" y1="534.70" x2="440.00" y2="534.70" stroke="#1c1c1c" stroke-width="1.90" />
<circle cx="501.00" cy="570.20" r="14.40" fill="none" stroke="#1c1c1c" stroke-width="1.25" />
<circle cx="501.00" cy="570.20" r="8.30" fill="none" stroke="#1c1c1c" stroke-width="1.25" />
<circle cx="501.00" cy="570.20" r="3.90" fill="none" stroke="#7a2a40" stroke-width="1.10" />
<path d="M517,600.3 L517,583 L576.8,583" fill="none" stroke="#1c1c1c" stroke-width="1.80" />
<rect x="524.60" y="595.30" width="23.20" height="4.80" fill="none" stroke="#1c1c1c" stroke-width="1.10" />
<line x1="532.30" y1="595.30" x2="532.30" y2="600.00" stroke="#1c1c1c" stroke-width="1.20" />
<line x1="538.80" y1="595.30" x2="538.80" y2="600.00" stroke="#1c1c1c" stroke-width="1.20" />
<rect x="562.40" y="595.30" width="11.80" height="4.80" fill="none" stroke="#1c1c1c" stroke-width="1.10" />
<line x1="568.40" y1="595.30" x2="568.40" y2="600.00" stroke="#1c1c1c" stroke-width="1.00" />
<rect x="545.80" y="539.60" width="28.60" height="9.30" fill="#fff" stroke="#1c1c1c" stroke-width="1.00" />
<rect x="550.20" y="540.80" width="17.70" height="4.80" fill="none" stroke="#1c1c1c" stroke-width="1.00" />
<line x1="559.00" y1="540.80" x2="559.00" y2="545.60" stroke="#1c1c1c" stroke-width="0.80" />
<path d="M583.2,528.5 L592.5,529 M583.2,552.1 L592.5,551.6" fill="none" stroke="#1c1c1c" stroke-width="1.50" />
<path d="M583.6,528.5 Q578.2,533 578.2,540.3 Q578.2,547.6 583.6,552.1" fill="none" stroke="#1c1c1c" stroke-width="2.00" />
<ellipse cx="592.4" cy="540.3" rx="4.3" ry="11.4" fill="#fff" stroke="#1c1c1c" stroke-width="1.4"/>
<path d="M584.5,529 Q581.5,534 581.5,540.3 Q581.5,546.6 584.5,551.6" fill="none" stroke="#1c1c1c" stroke-width="0.80" />
<line x1="581.80" y1="533.60" x2="588.40" y2="533.60" stroke="#1c1c1c" stroke-width="0.90" />
<line x1="581.80" y1="538.00" x2="588.40" y2="538.00" stroke="#1c1c1c" stroke-width="0.90" />
<line x1="581.80" y1="542.60" x2="588.40" y2="542.60" stroke="#1c1c1c" stroke-width="0.90" />
<line x1="581.80" y1="547.00" x2="588.40" y2="547.00" stroke="#1c1c1c" stroke-width="0.90" />
<path d="M588.6,530.5 L587.4,534 L588.6,538 L587.4,542.5 L588.6,547 L587.6,550.5" fill="none" stroke="#1c1c1c" stroke-width="0.80" />
<path d="M577.8,562.6 Q575.4,569.4 577.8,576.2" fill="none" stroke="#1c1c1c" stroke-width="1.20" />
<rect x="578.40" y="562.20" width="6.00" height="14.40" fill="#fff" stroke="#1c1c1c" stroke-width="1.20" />
<line x1="578.40" y1="567.00" x2="584.40" y2="567.00" stroke="#1c1c1c" stroke-width="0.80" />
<line x1="578.40" y1="571.60" x2="584.40" y2="571.60" stroke="#1c1c1c" stroke-width="0.80" />
</svg>
</body></html>
